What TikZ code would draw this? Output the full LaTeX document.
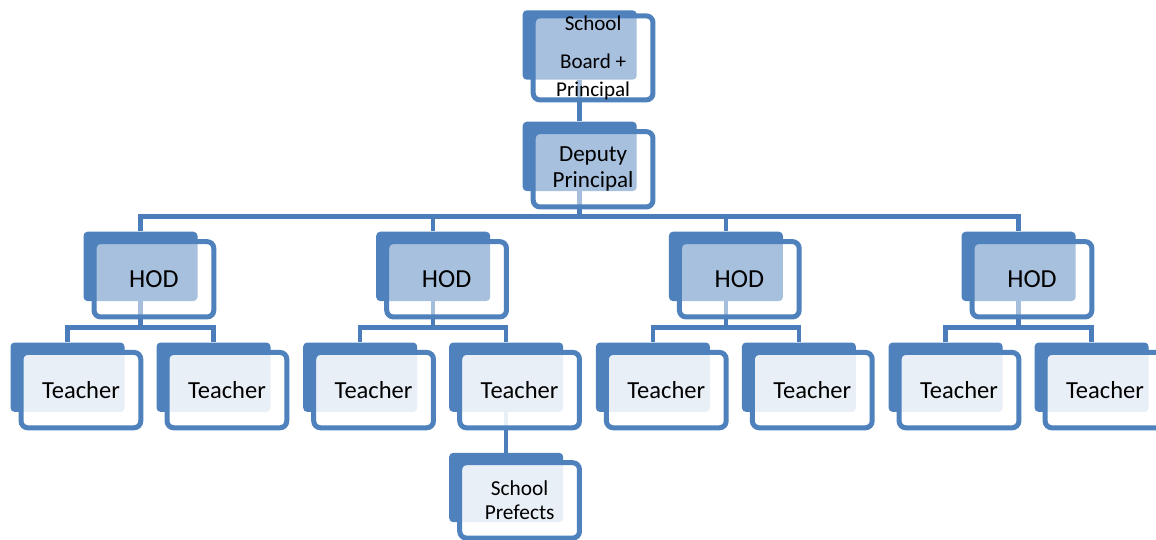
\documentclass[tikz,border=0pt]{standalone}
\usepackage{fontspec}
\setmainfont{Carlito}
\usetikzlibrary{calc}
\definecolor[named]{OrgBlue}{RGB}{79,129,189}
\definecolor[named]{OrgWire}{RGB}{74,125,186}
\pgfdeclarelayer{wires}
\pgfsetlayers{wires,main}
\newcommand{\boxdx}{13.4}
\newcommand{\boxdy}{12.9}
\tikzset{
  back/.style={fill=OrgBlue,rounded corners=3pt,inner sep=0pt,
    minimum width=85.5pt,minimum height=52pt},
  front/.style={draw=OrgBlue,line width=3.75pt,fill=white,rounded corners=5pt,
    inner sep=0pt,minimum width=89.8pt,minimum height=56.5pt,align=center,
    text opacity=1},
  upper/.style={front,fill opacity=0.5},
  lower/.style={front,fill opacity=0.88},
  wire/.style={draw=OrgWire,line width=3.4pt},
}
% back plate + front card, text sits on the card
\newcommand{\orgbox}[5]{%
  \node[back] (#1) at (#2,#3) {};
  \node[#4] (#1f) at (#2+\boxdx,#3+\boxdy) {#5};
}

\begin{document}
\begin{tikzpicture}[x=0.75pt,y=-0.75pt]
    \useasboundingbox (0,0) rectangle (1156,539);

    % Top of the chart
    \orgbox{board}{579.7}{45}{upper,font=\fontsize{15.8}{21}\selectfont}{School\\[7.5pt]Board +\\Principal}
    \orgbox{dep}{579.7}{156.4}{upper,font=\fontsize{17.3}{19.5}\selectfont}{Deputy\\Principal}

    % Heads of department
    \begin{scope}[every node/.append style={font=\fontsize{19.5}{22}\selectfont}]
      \orgbox{hodA}{140.5}{266.4}{upper}{HOD}
      \orgbox{hodB}{433.2}{266.4}{upper}{HOD}
      \orgbox{hodC}{725.9}{266.4}{upper}{HOD}
      \orgbox{hodD}{1018.6}{266.4}{upper}{HOD}
    \end{scope}

    % Teachers
    \begin{scope}[every node/.append style={font=\fontsize{18.4}{21}\selectfont}]
      \orgbox{tA1}{67.5}{377.2}{lower}{Teacher}
      \orgbox{tA2}{213.5}{377.2}{lower}{Teacher}
      \orgbox{tB1}{360.2}{377.2}{lower}{Teacher}
      \orgbox{tB2}{506.2}{377.2}{lower}{Teacher}
      \orgbox{tC1}{652.9}{377.2}{lower}{Teacher}
      \orgbox{tC2}{798.9}{377.2}{lower}{Teacher}
      \orgbox{tD1}{945.6}{377.2}{lower}{Teacher}
      \orgbox{tD2}{1091.6}{377.2}{lower}{Teacher}
    \end{scope}

    % Prefects
    \orgbox{pref}{506.2}{487.5}{lower,font=\fontsize{16}{18}\selectfont}{School\\Prefects}

    \begin{pgfonlayer}{wires}
      \draw[wire]
        (board.south) -- (dep.north)
        (dep.south) -- ++(0,25) -| (hodA.north)
        (dep.south) -- ++(0,25) -| (hodB.north)
        (dep.south) -- ++(0,25) -| (hodC.north)
        (dep.south) -- ++(0,25) -| (hodD.north)
        (hodA.south) -- ++(0,26) -| (tA1.north)
        (hodA.south) -- ++(0,26) -| (tA2.north)
        (hodB.south) -- ++(0,26) -| (tB1.north)
        (hodB.south) -- ++(0,26) -| (tB2.north)
        (hodC.south) -- ++(0,26) -| (tC1.north)
        (hodC.south) -- ++(0,26) -| (tC2.north)
        (hodD.south) -- ++(0,26) -| (tD1.north)
        (hodD.south) -- ++(0,26) -| (tD2.north)
        (tB2.south) -- (pref.north);
    \end{pgfonlayer}

  \end{tikzpicture}
\end{document}
